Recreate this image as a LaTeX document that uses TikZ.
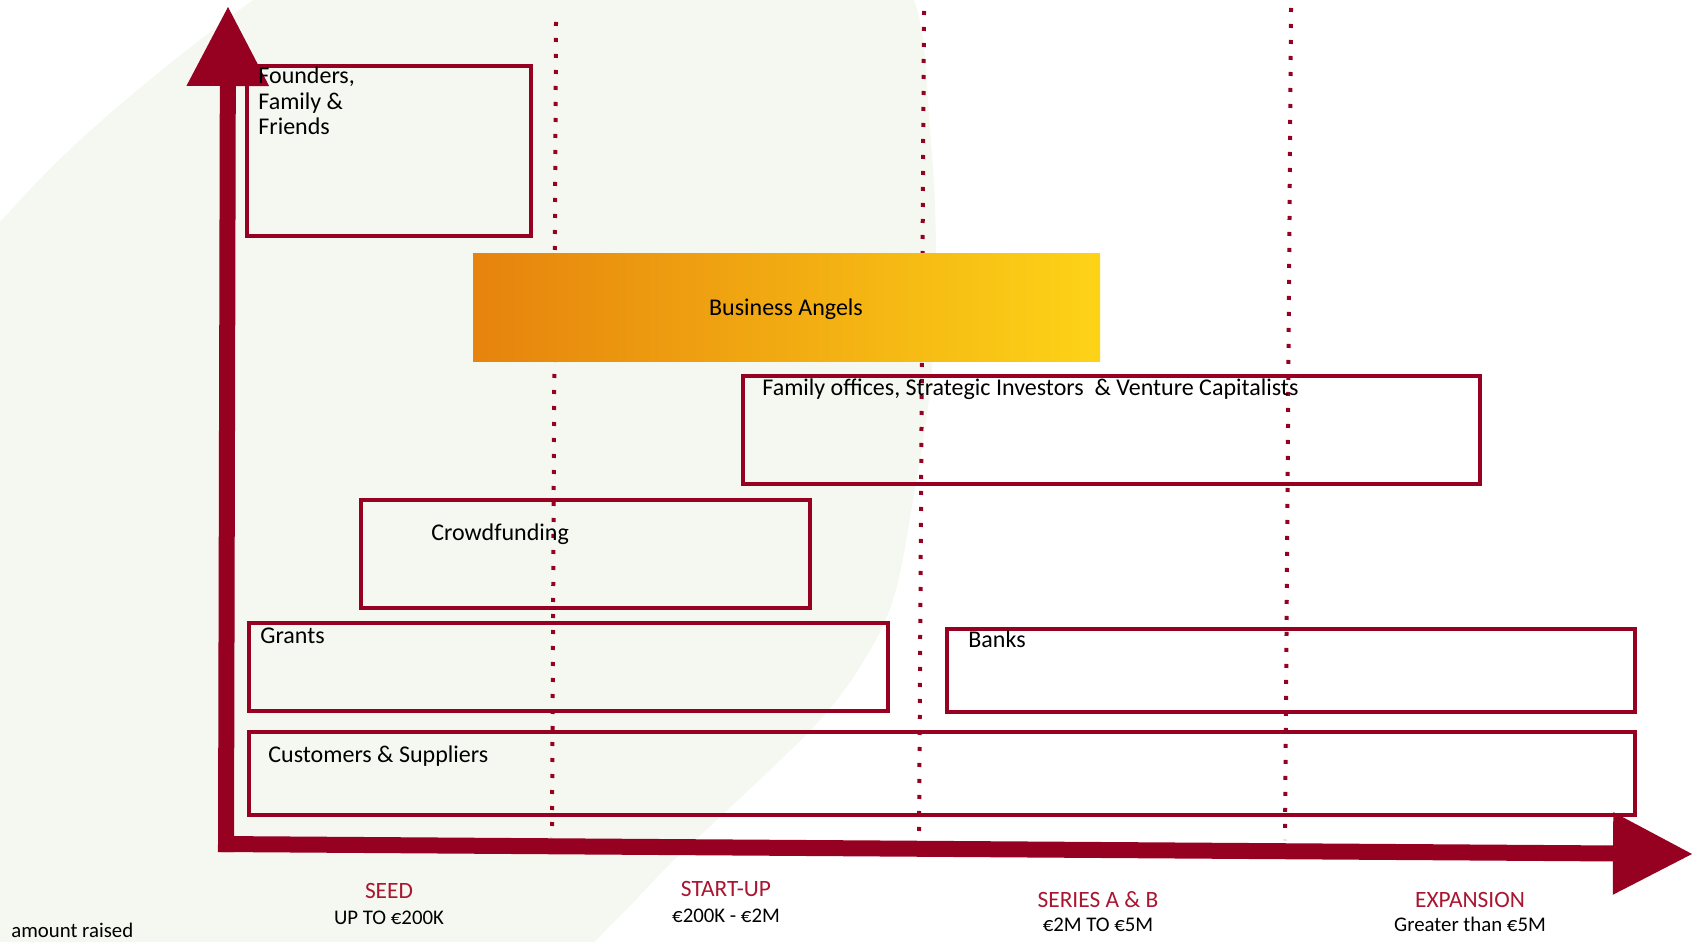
\documentclass[tikz,border=0pt]{standalone}
\usepackage{fontspec}
\setmainfont{Carlito}
\usetikzlibrary{arrows.meta}
\definecolor{darkred}{RGB}{150,0,33}
\definecolor{stagered}{RGB}{168,22,48}
\definecolor{bgtint}{RGB}{245,248,240}
\definecolor{baorange}{RGB}{230,131,13}
\definecolor{bayellow}{RGB}{253,211,23}
\tikzset{
  fundbox/.style={draw=darkred, line width=1.75pt, anchor=north west, inner sep=0pt, outer sep=0pt},
  boxtext/.style={anchor=base west, inner sep=0pt, font=\fontsize{12}{12.85}\selectfont},
  stage/.style={anchor=base, inner sep=0pt, text=stagered, font=\fontsize{11.7}{14}\selectfont},
  amount/.style={anchor=base, inner sep=0pt, font=\fontsize{10.4}{12}\selectfont},
  phase/.style={darkred, line width=2pt, dash pattern=on 2pt off 6pt},
  axis/.style={darkred, line width=8pt, -{Triangle[length=40pt,width=39pt]}}
}
\begin{document}
\begin{tikzpicture}[x=0.5pt,y=-0.5pt]
\useasboundingbox (0,0) rectangle (1700,941);
\begin{scope}
\clip (0,0) rectangle (1700,941);
\fill[bgtint] plot[smooth cycle, tension=0.6] coordinates {(914,0) (930,130) (936,253) (931,380) (913,500) (893,600) (860,667) (820,720) (773,767) (720,817) (667,867) (613,923) (520,1010) (350,1100) (100,1100) (-100,900) (-150,550) (-80,320) (0,222) (100,122) (253,0) (420,-110) (650,-170) (850,-100)};
\end{scope}

\draw[phase] (556,22) -- (552,838);
\draw[phase] (924,11) -- (919,840);
\draw[phase] (1291,8) -- (1285,840);

\node[fundbox, minimum width=142pt, minimum height=85pt] (ffbox) at (247,66) {};
\node[anchor=north west, inner sep=0pt, outer sep=0pt, minimum width=313.5pt, minimum height=54pt, left color=baorange, right color=bayellow] (babox) at (473,253) {};
\node[fundbox, minimum width=368.5pt, minimum height=54pt] (vcbox) at (743,376) {};
\node[fundbox, minimum width=224.5pt, minimum height=54pt] (cfbox) at (361,500) {};
\node[fundbox, minimum width=319.5pt, minimum height=44pt] (grbox) at (249,623) {};
\node[fundbox, minimum width=344pt, minimum height=41.5pt] (bkbox) at (947,629) {};
\node[fundbox, minimum width=693pt, minimum height=41.5pt] (csbox) at (249,732) {};

\coordinate (origin) at (226,852);
\coordinate (ytip) at (228,6);
\coordinate (xstart) at (218,844);
\coordinate (xtip) at (1693,854);
\draw[axis] (origin) -- (ytip);
\draw[axis] (xstart) -- (xtip);

\node[boxtext] (fftext) at (258,84) {Founders,};
\node[boxtext] (fftextb) at (258,110) {Family \&};
\node[boxtext] (fftextc) at (258,135) {Friends};
\node[boxtext, anchor=base] (batext) at (786,315) {Business Angels};
\node[boxtext] (vctext) at (762,395) {Family offices, Strategic Investors \ \& Venture Capitalists};
\node[boxtext] (cftext) at (431,540) {Crowdfunding};
\node[boxtext] (grtext) at (260,643) {Grants};
\node[boxtext] (bktext) at (968,647) {Banks};
\node[boxtext] (cstext) at (268,762) {Customers \& Suppliers};

\node[stage] (seed) at (389,898) {SEED};
\node[amount] (seedamt) at (389,924) {UP TO €200K};
\node[stage] (startup) at (726,896) {START-UP};
\node[amount] (startupamt) at (726,922) {€200K - €2M};
\node[stage] (series) at (1098,907) {SERIES A \& B};
\node[amount] (seriesamt) at (1098,931) {€2M TO €5M};
\node[stage] (expansion) at (1470,907) {EXPANSION};
\node[amount] (expansionamt) at (1470,931) {Greater than €5M};
\node[amount, anchor=base west] (raised) at (11,937) {amount raised};
\end{tikzpicture}
\end{document}
